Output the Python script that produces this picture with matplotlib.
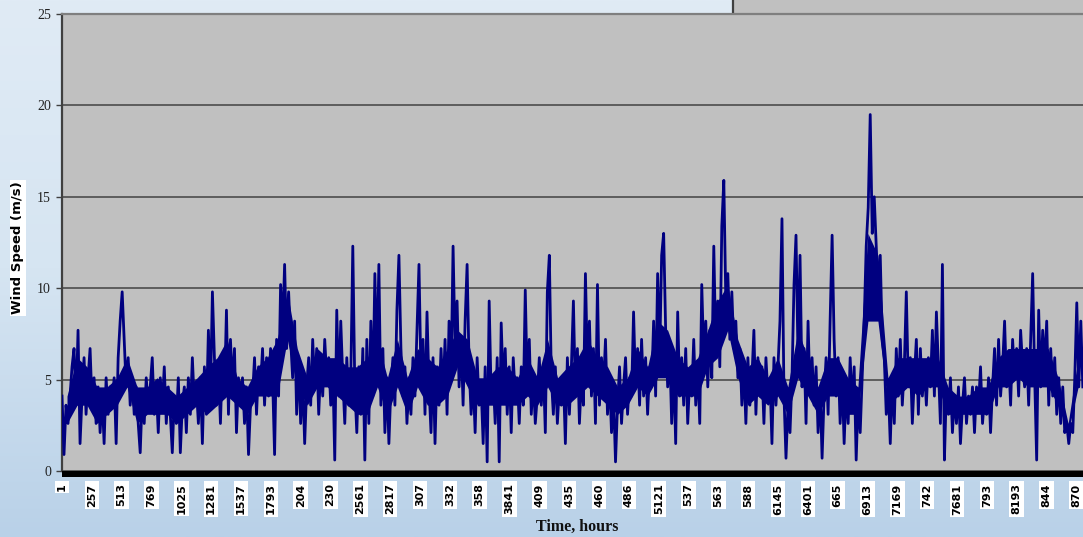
import numpy as np
import matplotlib
matplotlib.use("Agg")
import matplotlib.pyplot as plt
from matplotlib.colors import LinearSegmentedColormap
from matplotlib.patches import Rectangle

# hourly wind speed over one year (m/s), read along the record
wind_speed = [
    4.1, 0.9, 3.6, 2.6, 4.1,   5.7, 6.7, 3.6, 7.7, 1.5,   4.1, 6.2, 3.1, 5.1, 6.7,
    3.6, 5.1, 2.6, 4.6, 2.1,   4.1, 1.5, 5.1, 3.1, 4.6,   3.6, 5.1, 1.5, 6.2, 8.2,
    9.8, 7.2, 4.6, 6.2, 3.6,   5.1, 3.1, 4.6, 2.6, 1.0,   4.1, 2.6, 5.1, 3.6, 4.6,
    6.2, 3.1, 4.6, 2.1, 5.1,   3.6, 5.7, 2.6, 4.6, 3.1,   1.0, 4.1, 2.6, 5.1, 1.0,
    3.6, 4.6, 2.1, 5.1, 3.1,   6.2, 3.6, 4.6, 2.6, 5.1,   1.5, 5.7, 3.1, 7.7, 4.1,
    9.8, 6.2, 3.6, 5.7, 2.6,   6.2, 4.1, 8.8, 3.1, 7.2,   4.6, 6.7, 2.1, 5.1, 3.6,
    5.1, 2.6, 4.6, 0.9, 3.6,   4.1, 6.2, 3.1, 5.7, 4.6,   6.7, 3.6, 6.2, 4.1, 6.7,
    5.1, 0.9, 7.2, 4.1, 10.2,  7.7, 11.3, 6.7, 9.8, 7.2,  5.1, 8.2, 3.1, 6.2, 2.6,
    5.1, 1.5, 4.6, 6.2, 3.6,   7.2, 4.6, 6.7, 3.1, 5.7,   4.1, 7.2, 5.1, 6.2, 3.6,
    5.7, 0.6, 8.8, 4.1, 8.2,   5.1, 2.6, 6.2, 3.6, 5.1,   12.3, 4.6, 2.1, 5.7, 3.1,
    6.7, 0.6, 7.2, 2.6, 8.2,   4.1, 10.8, 5.7, 11.3, 3.6, 6.7, 2.1, 5.1, 1.5, 4.6,
    6.2, 3.6, 8.8, 11.8, 6.7,  4.1, 5.7, 2.6, 5.1, 3.1,   6.2, 4.1, 7.7, 11.3, 5.1,
    7.2, 3.1, 8.7, 4.6, 2.1,   6.2, 1.5, 5.7, 3.6, 6.7,   4.1, 7.2, 3.1, 8.2, 5.1,
    12.3, 6.7, 9.3, 4.6, 7.2,  3.6, 8.2, 11.3, 5.7, 3.1,  5.1, 2.1, 6.2, 3.6, 4.6,
    1.5, 5.7, 0.5, 9.3, 4.1,   5.1, 2.6, 6.2, 0.5, 8.1,   4.6, 6.7, 3.1, 5.7, 2.1,
    6.2, 4.1, 5.1, 2.6, 5.7,   3.6, 9.9, 4.6, 7.2, 3.1,   5.1, 2.6, 4.1, 6.2, 3.6,
    5.7, 2.1, 9.8, 11.8, 5.1,  3.1, 5.7, 2.6, 4.6, 3.6,   5.1, 1.5, 6.2, 3.1, 5.7,
    9.3, 4.1, 6.7, 2.6, 5.1,   3.6, 10.8, 5.7, 8.2, 4.1,  6.7, 2.6, 10.2, 3.6, 6.2,
    4.6, 7.2, 3.1, 5.1, 2.1,   4.1, 0.5, 3.6, 5.7, 2.6,   4.6, 6.2, 3.1, 5.1, 4.1,
    8.7, 4.6, 6.7, 3.6, 7.2,   4.1, 6.2, 3.1, 5.7, 4.6,   8.2, 4.1, 10.8, 6.2, 11.8,
    13.0, 7.7, 4.6, 6.7, 2.6,  5.7, 1.5, 8.7, 4.1, 6.2,   3.6, 6.7, 2.6, 5.1, 4.1,
    7.2, 3.6, 5.7, 2.6, 10.2,  6.2, 8.2, 4.6, 7.7, 5.1,   12.3, 6.7, 9.3, 5.7, 13.4,
    15.9, 9.3, 10.8, 7.2, 9.8, 6.7, 8.2, 5.1, 6.7, 3.6,   5.7, 2.6, 6.2, 3.6, 5.1,
    7.7, 3.1, 6.2, 4.1, 5.7,   2.6, 6.2, 4.1, 5.1, 1.5,   6.2, 3.6, 5.7, 8.2, 13.8,
    4.1, 0.7, 3.6, 2.1, 5.1,   10.2, 12.9, 6.2, 11.8, 4.6, 6.7, 2.6, 8.2, 4.1, 6.2,
    3.6, 5.7, 2.1, 4.6, 0.7,   4.1, 6.2, 3.1, 8.2, 12.9,  7.2, 4.1, 6.2, 2.6, 5.1,
    1.5, 4.6, 2.6, 6.2, 3.6,   5.7, 0.6, 4.1, 2.1, 5.1,   8.2, 12.3, 14.4, 19.5, 13.0,
    15.0, 12.3, 9.8, 11.8, 7.2, 6.2, 3.1, 4.6, 1.5, 5.1,  2.6, 6.7, 4.1, 7.2, 3.6,
    5.7, 9.8, 4.6, 6.2, 2.6,   5.1, 7.2, 3.1, 6.7, 4.1,   5.7, 3.6, 6.2, 4.6, 7.7,
    4.1, 8.7, 5.7, 2.6, 11.3,  0.6, 4.6, 3.1, 5.1, 2.1,   4.1, 2.6, 4.6, 1.5, 3.6,
    5.1, 2.6, 4.1, 3.1, 4.6,   2.1, 4.6, 3.6, 5.7, 2.6,   4.1, 3.1, 5.1, 2.1, 4.6,
    6.7, 3.6, 7.2, 4.1, 5.7,   8.2, 4.6, 6.2, 3.6, 7.2,   5.1, 6.7, 4.1, 7.7, 5.7,
    4.6, 6.7, 3.6, 7.2, 10.8,  5.1, 0.6, 8.8, 4.6, 7.7,   5.7, 8.2, 3.6, 6.7, 4.1,
    6.2, 3.1, 5.1, 2.6, 4.6,   2.1, 2.6, 1.5, 2.6, 2.1,   5.1, 9.2, 4.6, 8.2, 4.6,
]
hours = np.linspace(1, 8760, len(wind_speed))

# range the hourly trace fills solidly in each ~86 h stretch
band_lo = [
    2.6, 3.6, 3.6, 2.6, 3.1, 3.6, 4.6, 2.6, 3.1, 3.1, 3.1, 2.6, 3.1, 3.6, 3.1, 3.6, 4.1,
    3.6, 3.1, 4.1, 4.1, 4.1, 7.2, 4.6, 3.6, 4.6, 4.6, 4.1, 3.6, 3.1, 3.1, 4.6, 3.1, 4.6,
    3.1, 4.6, 3.6, 3.6, 4.1, 5.7, 4.6, 3.6, 3.6, 3.6, 3.6, 3.6, 4.1, 3.6, 4.6, 3.6, 3.6,
    4.1, 4.6, 4.1, 3.6, 3.1, 3.6, 4.6, 4.1, 5.1, 5.1, 4.1, 4.1, 4.1, 5.7, 6.2, 7.7, 5.1,
    3.6, 4.1, 3.6, 4.1, 3.1, 5.1, 4.1, 3.1, 4.1, 4.1, 3.1, 3.1, 8.2, 8.2, 3.6, 4.1, 4.6,
    4.1, 4.6, 4.6, 3.1, 3.1, 3.1, 3.1, 3.1, 4.6, 4.6, 5.1, 4.6, 4.6, 4.6, 3.6, 2.1, 4.6,
]
band_hi = [
    4.1, 6.2, 5.7, 4.6, 4.6, 5.1, 6.2, 4.6, 4.6, 5.1, 4.6, 4.1, 4.6, 5.1, 5.7, 6.2, 7.2,
    5.1, 4.6, 5.7, 6.2, 7.2, 9.8, 6.7, 5.1, 6.7, 6.2, 6.2, 5.7, 5.7, 6.2, 7.2, 5.1, 7.2,
    5.1, 6.7, 6.2, 5.7, 6.7, 7.7, 7.2, 5.1, 5.1, 5.7, 5.7, 5.1, 6.2, 5.1, 7.2, 5.1, 5.7,
    6.2, 7.2, 6.2, 5.7, 4.6, 5.1, 6.7, 5.7, 8.2, 7.7, 6.2, 5.7, 6.2, 7.7, 9.3, 10.2, 7.2,
    5.7, 6.2, 5.1, 6.2, 4.6, 7.7, 6.2, 4.6, 6.2, 6.2, 5.1, 4.6, 13.0, 11.8, 5.1, 6.2, 6.2,
    6.2, 6.2, 6.2, 4.6, 4.1, 4.1, 4.6, 4.6, 6.2, 6.7, 6.7, 6.7, 6.7, 6.7, 5.1, 2.6, 6.2,
]
band_hours = np.linspace(44, 8720, len(band_lo))

# category labels every 256 h, clipped the way the axis shows them
tick_hours = [1 + 256 * k for k in range(35)]
tick_text = ["1", "257", "513", "769", "1025", "1281", "1537", "1793", "204", "230",
             "2561", "2817", "307", "332", "358", "3841", "409", "435", "460", "486",
             "5121", "537", "563", "588", "6145", "6401", "665", "6913", "7169", "742",
             "7681", "793", "8193", "844", "870"]
y_ticks = [0, 5, 10, 15, 20, 25]

W, H = 1083, 537
NAVY = "#000080"
fig = plt.figure(figsize=(W / 100, H / 100), dpi=100)

# pale blue gradient behind everything
bg = fig.add_axes([0, 0, 1, 1], zorder=-10)
grad = np.linspace(0, 1, 256).reshape(-1, 1)
cmap = LinearSegmentedColormap.from_list("bg", ["#e0ebf5", "#d6e5f2", "#b9d1e8"])
bg.imshow(grad, aspect="auto", cmap=cmap, extent=[0, 1, 0, 1], origin="upper")
bg.set_xlim(0, 1)
bg.set_ylim(0, 1)
bg.axis("off")
# grey strip and divider above the right half of the plot
bg.add_patch(Rectangle((733 / W, 1 - 14 / H), 1, 14 / H, facecolor="#c0c0c0", edgecolor="none"))
bg.plot([733 / W, 733 / W], [1 - 14 / H, 1], color="#404040", lw=1.6)

ax = fig.add_axes([62 / W, 66 / H, (W - 62) / W + 0.001, 457 / H])
ax.set_facecolor("#c0c0c0")
ax.fill_between(band_hours, band_lo, band_hi, color=NAVY, lw=0, zorder=3)
ax.plot(hours, wind_speed, color=NAVY, lw=2.0, zorder=3)

ax.set_xlim(1, 8771)
ax.set_ylim(0, 25)
ax.set_yticks(y_ticks)
ax.set_yticklabels([str(v) for v in y_ticks], family="Liberation Serif", fontsize=10, color="#222222")
ax.tick_params(axis="y", length=4, width=1, color="#404040", pad=4)
ax.yaxis.grid(True, color="#555555", lw=1.3)
ax.set_axisbelow(True)

ax.set_xticks(tick_hours)
ax.set_xticklabels(tick_text, rotation=90, fontsize=8, weight="bold", family="DejaVu Sans",
                   bbox=dict(boxstyle="square,pad=0.2", fc="white", ec="none"))
ax.tick_params(axis="x", length=0, pad=9)

for s in ["right", "bottom"]:
    ax.spines[s].set_visible(False)
ax.spines["left"].set_color("#404040")
ax.spines["left"].set_linewidth(1.6)
ax.spines["top"].set_color("#7f7f7f")
ax.spines["top"].set_linewidth(1.6)

# heavy black floor under the plot area
ax.add_patch(Rectangle((0, -6 / 457), 1, 6 / 457, transform=ax.transAxes,
                       facecolor="black", edgecolor="none", clip_on=False, zorder=5))

fig.text(18 / W, 1 - 248 / H, "Wind Speed (m/s)", rotation=90, ha="center", va="center",
         fontsize=9.5, weight="bold", color="black",
         bbox=dict(boxstyle="square,pad=0.15", fc="white", ec="none"))
fig.text(577 / W, 1 - 527 / H, "Time, hours", ha="center", va="center",
         fontsize=11.5, weight="bold", family="Liberation Serif", color="#111111")

fig.savefig("out.png", dpi=100)
